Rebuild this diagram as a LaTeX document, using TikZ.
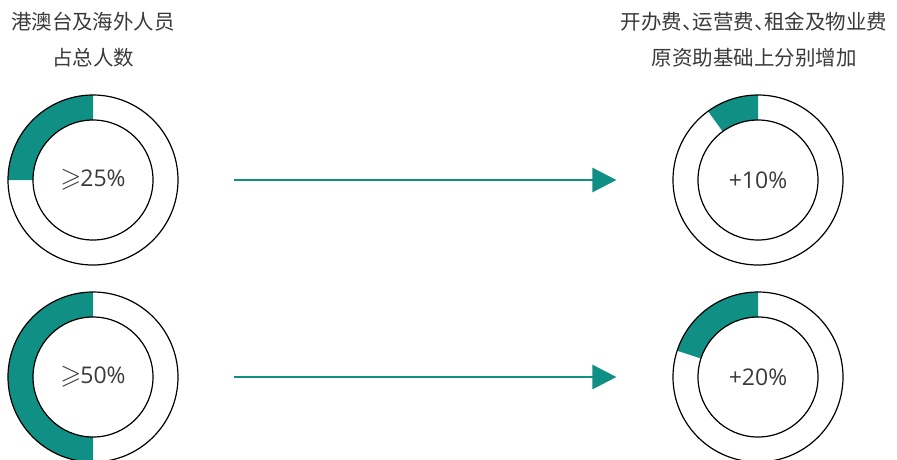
\documentclass[tikz,border=0pt]{standalone}
\usepackage{amssymb}
\usepackage{fontspec}
\setmainfont{Open Sans}
\newfontfamily\cjk{Noto Sans CJK SC}
\usetikzlibrary{arrows.meta}
\definecolor{hkteal}{RGB}{16,143,132}
\definecolor{textgray}{RGB}{58,58,58}
\newcommand{\atleast}{{\fontsize{27}{27}\selectfont$\geqslant$}\kern-1pt}

\begin{document}
\begin{tikzpicture}[x=1pt,y=1pt,
        ring/.style={circle,draw,line width=1.2pt,minimum size=170pt,inner sep=0pt},
        hole/.style={circle,draw,line width=1.2pt,minimum size=120pt,inner sep=0pt},
        pct/.style={text=textgray,font=\fontsize{23}{27}\selectfont},
        heading/.style={text=textgray,align=center,font=\cjk\fontsize{20.5}{36}\selectfont},
        flow/.style={hkteal,line width=2.8pt,-{Triangle[length=24pt,width=24pt]}}]
        \clip (0,0) rectangle (897,-459);

        \coordinate (c1) at (93,-180);
        \coordinate (c2) at (758,-180);
        \coordinate (c3) at (93,-377);
        \coordinate (c4) at (758,-377);

        % shares
        \fill[hkteal] (c1) ++(90:85) arc[start angle=90,end angle=180,radius=85] -- ++(0:25) arc[start angle=180,end angle=90,radius=60] -- cycle;
        \fill[hkteal] (c2) ++(90:85) arc[start angle=90,end angle=126,radius=85] -- ++(306:25) arc[start angle=126,end angle=90,radius=60] -- cycle;
        \fill[hkteal] (c3) ++(90:85) arc[start angle=90,end angle=270,radius=85] -- ++(90:25) arc[start angle=270,end angle=90,radius=60] -- cycle;
        \fill[hkteal] (c4) ++(90:85) arc[start angle=90,end angle=162,radius=85] -- ++(342:25) arc[start angle=162,end angle=90,radius=60] -- cycle;

        \node[ring] (r1) at (c1) {};
        \node[hole] (h1) at (c1) {};
        \node[ring] (r2) at (c2) {};
        \node[hole] (h2) at (c2) {};
        \node[ring] (r3) at (c3) {};
        \node[hole] (h3) at (c3) {};
        \node[ring] (r4) at (c4) {};
        \node[hole] (h4) at (c4) {};

        \node[pct] (v1) at (c1) {\atleast25\%};
        \node[pct] (v2) at (c2) {+10\%};
        \node[pct] (v3) at (c3) {\atleast50\%};
        \node[pct] (v4) at (c4) {+20\%};

        \node[heading] (t1) at (93,-40) {港澳台及海外人员\\占总人数};
        \node[heading] (t2) at (754,-40) {开办费、\kern-0.5em运营费、\kern-0.5em租金及物业费\\原资助基础上分别增加};

        \draw[flow] ([xshift=55pt]r1.east) -- ([xshift=-56pt]r2.west);
        \draw[flow] ([xshift=55pt]r3.east) -- ([xshift=-56pt]r4.west);
    \end{tikzpicture}
\end{document}
